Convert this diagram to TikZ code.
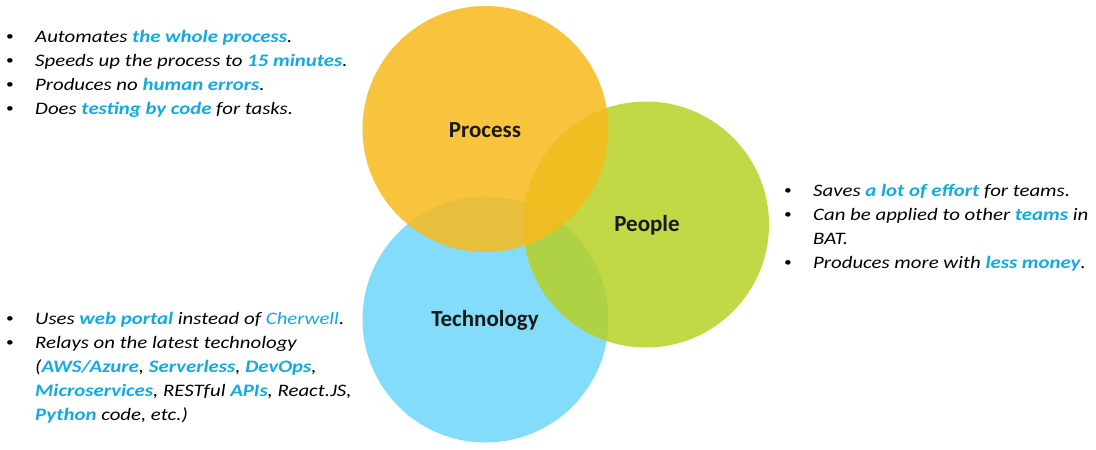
\documentclass[tikz,border=0pt]{standalone}
\usepackage{fontspec}
\usepackage{xcolor}
\usepackage{tikz}
\setmainfont{Carlito}
\newfontfamily\bulletfont{Carlito}[FakeStretch=1.19]

\definecolor{processorange}{RGB}{248,186,27}
\definecolor{peoplegreen}{RGB}{183,209,38}
\definecolor{techblue}{RGB}{108,214,249}
\definecolor{hlblue}{RGB}{20,170,222}

\newcommand{\bitem}{\makebox[35pt][l]{\hspace{6pt}\raisebox{1.5pt}{\fontsize{13}{13}\selectfont\upshape•}}}
\newcommand{\hl}[1]{\textbf{\color{hlblue}#1}}

\begin{document}
\begin{tikzpicture}[x=1pt, y=-1pt,
		venn_style/.style={circle,minimum size=246pt,inner sep=0pt,fill opacity=0.85},
		label_style/.style={anchor=base,inner sep=0pt,font=\fontsize{23}{28}\selectfont\bfseries,text=black!90},
		list_style/.style={anchor=base west,inner sep=0pt,font=\bulletfont\fontsize{17.5}{24}\selectfont\itshape}]

		\useasboundingbox (0,0) rectangle (1096,450);

		\node[venn_style,fill=techblue] (tech) at (485.5,319.5) {};
		\node[venn_style,fill=peoplegreen] (people) at (646,224.5) {};
		\node[venn_style,fill=processorange] (process) at (485.5,129) {};

		\node[label_style] (process_label) at (485,137) {Process};
		\node[label_style] (people_label) at (647,231) {People};
		\node[label_style] (tech_label) at (485,326) {Technology};

		\node[list_style] (process_list) at (0,42) {%
			\begin{tabular}[t]{@{}l@{}}
			\bitem Automates \hl{the whole process}.\\
			\bitem Speeds up the process to \hl{15 minutes}.\\
			\bitem Produces no \hl{human errors}.\\
			\bitem Does \hl{testing by code} for tasks.
			\end{tabular}};

		\node[list_style] (people_list) at (778,196) {%
			\begin{tabular}[t]{@{}l@{}}
			\bitem Saves \hl{a lot of effort} for teams.\\
			\bitem Can be applied to other \hl{teams} in\\
			\hspace*{35pt}BAT.\\
			\bitem Produces more with \hl{less money}.
			\end{tabular}};

		\node[list_style] (tech_list) at (0,324) {%
			\begin{tabular}[t]{@{}l@{}}
			\bitem Uses \hl{web portal} instead of {\color{hlblue}Cherwell}.\\
			\bitem Relays on the latest technology\\
			\hspace*{35pt}(\hl{AWS/Azure}, \hl{Serverless}, \hl{DevOps},\\
			\hspace*{35pt}\hl{Microservices}, RESTful \hl{APIs}, React.JS,\\
			\hspace*{35pt}\hl{Python} code, etc.)
			\end{tabular}};

\end{tikzpicture}
\end{document}
